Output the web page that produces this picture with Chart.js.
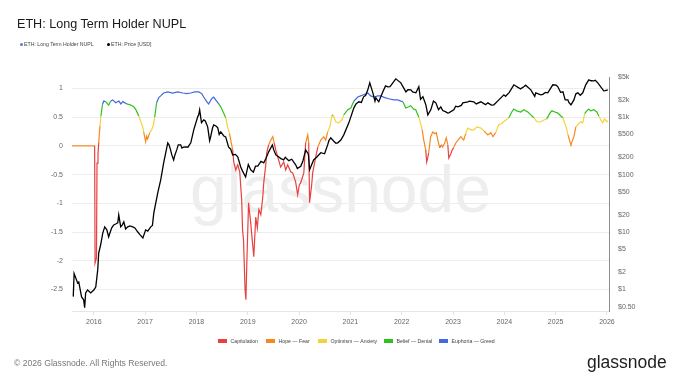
<!DOCTYPE html>
<html>
<head>
<meta charset="utf-8">
<script src="https://cdn.jsdelivr.net/npm/chart.js@4.4.1/dist/chart.umd.min.js"></script>
<style>
body { margin: 0; background: #fff; font-family: "Liberation Sans", Arial, sans-serif; }
#wrap { position: relative; width: 680px; height: 383px; overflow: hidden; }
canvas { position: absolute; left: 0; top: 0; }
.t { position: absolute; white-space: nowrap; line-height: 1; }
#title { left: 17px; top: 17.5px; font-size: 12.6px; color: #1a1a1a; }
.leg { top: 41.5px; font-size: 5.2px; color: #444; }
.dot { display: inline-block; width: 3px; height: 3px; border-radius: 50%; margin-right: 1.5px; vertical-align: middle; }
.zone { top: 338.5px; font-size: 5.2px; color: #444; }
.box { display: inline-block; width: 9px; height: 4.5px; margin-right: 3.5px; vertical-align: -0.5px; }
#copy { left: 14px; top: 358.5px; font-size: 8.6px; color: #777; }
#logo { left: 587px; top: 354px; font-size: 17.5px; color: #1e1e1e; }
</style>
</head>
<body>
<div id="wrap">
  <canvas id="nuplChart" width="680" height="383"></canvas>
  <div class="t" id="title">ETH: Long Term Holder NUPL</div>
  <div class="t leg" style="left:19.5px"><span class="dot" style="background:#5f78d6"></span>ETH: Long Term Holder NUPL</div>
  <div class="t leg" style="left:106.5px"><span class="dot" style="background:#000"></span>ETH: Price [USD]</div>
  <div id="zoneLegend"></div>
  <div class="t" id="copy">© 2026 Glassnode. All Rights Reserved.</div>
  <div class="t" id="logo">glassnode</div>
</div>
<script>
// LTH-NUPL readings
const nuplDates = [
  '2015-07-30','2016-01-07','2016-01-10','2016-01-20','2016-01-24','2016-01-31','2016-02-05','2016-02-14','2016-02-21','2016-03-03',
  '2016-03-12','2016-03-26','2016-04-16','2016-05-01','2016-05-15','2016-06-06','2016-06-28','2016-07-12','2016-07-26','2016-08-23',
  '2016-09-21','2016-10-12','2016-10-27','2016-11-17','2016-12-01','2016-12-15','2016-12-22','2017-01-05','2017-01-12','2017-01-19',
  '2017-02-03','2017-02-17','2017-03-03','2017-03-10','2017-03-24','2017-04-08','2017-04-22','2017-05-13','2017-06-11','2017-07-16',
  '2017-08-21','2017-09-26','2017-10-24','2017-11-22','2017-12-20','2018-01-18','2018-02-08','2018-02-22','2018-03-15','2018-03-29',
  '2018-04-19','2018-05-04','2018-05-18','2018-06-09','2018-06-23','2018-07-14','2018-07-28','2018-08-11','2018-08-25','2018-09-02',
  '2018-09-16','2018-09-23','2018-10-08','2018-10-22','2018-11-05','2018-11-19','2018-11-25','2018-12-02','2018-12-13','2018-12-19',
  '2018-12-26','2019-01-07','2019-01-22','2019-02-05','2019-02-13','2019-02-27','2019-03-10','2019-03-21','2019-04-04','2019-04-18',
  '2019-04-25','2019-05-09','2019-05-16','2019-05-30','2019-06-14','2019-06-28','2019-07-08','2019-07-19','2019-08-02','2019-08-23',
  '2019-09-14','2019-09-28','2019-10-12','2019-11-03','2019-11-17','2019-12-08','2019-12-22','2020-01-03','2020-01-13','2020-02-04',
  '2020-02-17','2020-03-03','2020-03-10','2020-03-16','2020-03-31','2020-04-07','2020-04-29','2020-05-14','2020-06-04','2020-06-25',
  '2020-07-09','2020-07-23','2020-08-07','2020-08-22','2020-08-29','2020-09-19','2020-10-10','2020-11-01','2020-11-15','2020-12-14',
  '2021-01-04','2021-01-26','2021-02-23','2021-03-15','2021-04-05','2021-05-05','2021-05-26','2021-06-17','2021-07-15','2021-08-05',
  '2021-09-03','2021-10-01','2021-11-06','2021-12-04','2021-12-26','2022-01-09','2022-01-23','2022-01-30','2022-02-21','2022-03-06',
  '2022-03-27','2022-04-11','2022-05-03','2022-05-17','2022-05-27','2022-06-07','2022-06-21','2022-06-28','2022-07-05','2022-07-12',
  '2022-07-26','2022-08-10','2022-08-24','2022-09-04','2022-09-15','2022-09-28','2022-10-12','2022-10-19','2022-11-03','2022-11-14',
  '2022-11-25','2022-12-02','2022-12-16','2022-12-23','2023-01-06','2023-01-21','2023-02-05','2023-02-26','2023-03-18','2023-04-01',
  '2023-04-16','2023-05-08','2023-05-30','2023-06-20','2023-07-18','2023-08-09','2023-09-06','2023-09-27','2023-10-12','2023-11-01',
  '2023-11-23','2023-12-07','2023-12-28','2024-01-12','2024-02-02','2024-02-23','2024-03-08','2024-03-29','2024-04-28','2024-05-19',
  '2024-06-17','2024-07-08','2024-07-30','2024-08-20','2024-09-18','2024-10-09','2024-10-30','2024-11-21','2024-12-05','2024-12-27',
  '2025-01-17','2025-02-07','2025-02-22','2025-03-08','2025-03-19','2025-03-30','2025-04-13','2025-04-20','2025-04-27','2025-05-11',
  '2025-05-25','2025-06-08','2025-06-29','2025-07-13','2025-07-27','2025-08-11','2025-08-25','2025-09-08','2025-09-30','2025-10-21',
  '2025-11-04','2025-11-18','2025-12-02','2025-12-16','2025-12-30','2026-01-07'
];
const nuplValues = [
  0, 0, -2.04, -1.95, -0.3, -0.15, 0.05, 0.35, 0.52, 0.72,
  0.78, 0.77, 0.71, 0.78, 0.8, 0.75, 0.78, 0.73, 0.77, 0.73,
  0.71, 0.68, 0.63, 0.52, 0.42, 0.33, 0.24, 0.07, 0.17, 0.12,
  0.23, 0.28, 0.38, 0.5, 0.75, 0.84, 0.87, 0.92, 0.94, 0.92,
  0.94, 0.92, 0.91, 0.92, 0.94, 0.94, 0.91, 0.85, 0.77, 0.73,
  0.82, 0.85, 0.8, 0.73, 0.68, 0.57, 0.49, 0.33, 0.21, 0.1,
  -0.07, -0.28, -0.42, -0.33, -0.45, -0.94, -1.46, -1.64, -2.51, -2.68,
  -1.99, -0.99, -1.34, -1.72, -1.93, -1.24, -1.43, -1.11, -1.2, -0.89,
  -0.64, -0.33, -0.12, 0.02, 0.1, 0.16, 0.05, -0.07, -0.19, -0.37,
  -0.28, -0.42, -0.33, -0.45, -0.47, -0.63, -0.85, -0.68, -0.64, -0.47,
  0.05, 0.19, 0.05, -0.99, -0.68, -0.47, -0.19, -0.02, 0.1, 0.16,
  0.1, 0.24, 0.33, 0.52, 0.54, 0.42, 0.4, 0.45, 0.54, 0.63,
  0.66, 0.78, 0.85, 0.87, 0.89, 0.92, 0.87, 0.85, 0.87, 0.87,
  0.84, 0.82, 0.8, 0.8, 0.78, 0.77, 0.7, 0.66, 0.68, 0.7,
  0.64, 0.63, 0.5, 0.38, 0.28, 0.1, -0.07, -0.28, -0.21, -0.12,
  0.16, 0.24, 0.21, 0.23, 0.1, -0.03, 0.02, -0.02, 0.05, 0.14,
  0.02, -0.21, -0.14, -0.09, -0.03, 0.05, 0.1, 0.16, 0.1, 0.21,
  0.31, 0.28, 0.28, 0.33, 0.31, 0.26, 0.19, 0.23, 0.16, 0.23,
  0.37, 0.38, 0.42, 0.45, 0.49, 0.59, 0.64, 0.61, 0.59, 0.63,
  0.59, 0.54, 0.49, 0.42, 0.42, 0.45, 0.47, 0.57, 0.61, 0.59,
  0.57, 0.52, 0.49, 0.38, 0.31, 0.19, 0.07, 0.01, 0.07, 0.16,
  0.33, 0.37, 0.42, 0.4, 0.56, 0.61, 0.64, 0.61, 0.63, 0.59,
  0.52, 0.45, 0.4, 0.47, 0.42, 0.44
];

// ETH price readings (USD)
const priceDates = [
  '2015-08-08','2015-08-14','2015-09-08','2015-09-16','2015-10-06','2015-10-21','2015-10-28','2015-11-04','2015-11-18','2015-12-10',
  '2016-01-01','2016-01-15','2016-01-29','2016-02-05','2016-02-19','2016-03-05','2016-03-19','2016-04-03','2016-04-16','2016-04-25',
  '2016-05-08','2016-05-22','2016-06-05','2016-06-20','2016-06-27','2016-07-11','2016-07-20','2016-08-02','2016-08-15','2016-08-30',
  '2016-09-15','2016-10-05','2016-10-20','2016-11-10','2016-11-25','2016-12-16','2017-01-05','2017-01-20','2017-02-10','2017-02-22',
  '2017-03-04','2017-04-01','2017-04-22','2017-05-13','2017-06-11','2017-06-20','2017-07-01','2017-07-10','2017-07-23','2017-08-01',
  '2017-08-14','2017-08-25','2017-09-11','2017-09-20','2017-10-01','2017-10-17','2017-11-01','2017-11-22','2017-12-13','2018-01-10',
  '2018-01-17','2018-01-24','2018-02-06','2018-02-22','2018-03-05','2018-03-22','2018-04-05','2018-04-12','2018-04-25','2018-05-04',
  '2018-05-20','2018-06-02','2018-06-12','2018-06-23','2018-07-15','2018-07-28','2018-08-18','2018-09-01','2018-09-16','2018-10-05',
  '2018-10-22','2018-11-12','2018-11-25','2018-12-17','2019-01-05','2019-01-22','2019-02-10','2019-02-25','2019-03-13','2019-04-05',
  '2019-04-25','2019-05-10','2019-05-30','2019-06-25','2019-07-05','2019-07-20','2019-08-10','2019-08-25','2019-09-14','2019-09-25',
  '2019-10-20','2019-11-10','2019-12-08','2019-12-20','2020-01-13','2020-01-28','2020-02-17','2020-02-25','2020-03-03','2020-03-08',
  '2020-03-16','2020-04-14','2020-05-05','2020-06-04','2020-07-01','2020-07-23','2020-08-01','2020-08-14','2020-09-05','2020-09-20',
  '2020-10-03','2020-10-25','2020-11-15','2020-12-21','2021-01-26','2021-02-10','2021-03-02','2021-03-20','2021-04-05','2021-04-20',
  '2021-05-05','2021-05-19','2021-06-10','2021-06-25','2021-07-01','2021-07-22','2021-08-20','2021-09-08','2021-09-25','2021-10-10',
  '2021-10-30','2021-11-20','2021-12-26','2022-01-31','2022-02-15','2022-03-07','2022-03-20','2022-04-12','2022-05-03','2022-05-15',
  '2022-06-01','2022-06-22','2022-07-06','2022-07-27','2022-08-15','2022-09-01','2022-09-20','2022-10-06','2022-10-20','2022-11-11',
  '2022-11-25','2022-12-02','2023-01-07','2023-01-20','2023-02-05','2023-03-01','2023-03-12','2023-04-17','2023-04-28','2023-05-29',
  '2023-06-15','2023-07-18','2023-08-20','2023-09-06','2023-10-01','2023-10-19','2023-11-23','2023-12-29','2024-01-10','2024-01-20',
  '2024-02-03','2024-03-09','2024-04-13','2024-04-25','2024-05-19','2024-06-01','2024-07-08','2024-08-05','2024-08-12','2024-09-17',
  '2024-10-01','2024-10-20','2024-11-06','2024-12-12','2025-01-05','2025-01-17','2025-02-05','2025-02-22','2025-03-10','2025-03-29',
  '2025-04-05','2025-04-20','2025-05-11','2025-05-25','2025-06-08','2025-06-25','2025-07-13','2025-08-03','2025-08-25','2025-09-10',
  '2025-09-30','2025-10-10','2025-10-28','2025-11-18','2025-12-09','2025-12-20','2026-01-07'
];
const priceValues = [
  0.75, 1.9, 1.3, 1.35, 0.74, 0.66, 0.48, 0.87, 0.98, 0.87,
  0.98, 1.1, 2.19, 4.3, 6.0, 9.6, 12.3, 10.9, 8.2, 9.6,
  11.8, 13.3, 13.8, 14.4, 19.9, 12.3, 13, 15, 11.3, 12.3,
  12.8, 12.3, 11.8, 10, 9.0, 7.9, 10.9, 10.4, 12.3, 13,
  21.5, 48, 81, 160, 357, 330, 269, 220, 180, 220,
  269, 330, 329, 290, 300, 304, 300, 357, 601, 1012,
  1100, 1340, 800, 897, 860, 678, 390, 454, 640, 734,
  700, 651, 500, 555, 470, 454, 300, 280, 220, 225,
  203, 136, 115, 91, 150, 121, 110, 140, 140, 170,
  160, 190, 249, 329, 269, 220, 203, 190, 180, 200,
  175, 185, 148, 128, 140, 170, 269, 250, 240, 220,
  121, 180, 200, 240, 230, 329, 390, 436, 380, 350,
  357, 400, 492, 795, 1450, 1700, 1850, 1800, 2260, 2400,
  2990, 3960, 2650, 1900, 2170, 1850, 2760, 3500, 3375, 3400,
  3960, 4645, 3960, 2760, 3000, 2990, 2750, 2650, 3375, 2050,
  2260, 1640, 1096, 1340, 1900, 1775, 1350, 1510, 1300, 1237,
  1180, 1188, 1340, 1550, 1510, 1600, 1775, 1850, 1900, 1850,
  1700, 1850, 1650, 1775, 1620, 1640, 2000, 2445, 2300, 2450,
  2650, 3655, 3240, 3100, 3375, 3600, 2990, 2300, 2650, 2445,
  2500, 2700, 2650, 3655, 3600, 3375, 2700, 2760, 2000, 2000,
  1800, 1640, 2000, 2550, 2650, 2400, 2650, 3655, 4470, 4300,
  4290, 4400, 3960, 3375, 2870, 2900, 2990
];

const yearTicks = [2016, 2017, 2018, 2019, 2020, 2021, 2022, 2023, 2024, 2025, 2026];
const nuplTicks = [-2.5, -2, -1.5, -1, -0.5, 0, 0.5, 1];
const priceTicks = [0.5, 1, 2, 5, 10, 20, 50, 100, 200, 500, 1000, 2000, 5000];
const priceTickLabels = ['$0.50', '$1', '$2', '$5', '$10', '$20', '$50', '$100', '$200', '$500', '$1k', '$2k', '$5k'];

// NUPL zones: lower bound of each band
const zoneNames = ['Capitulation', 'Hope \u2014 Fear', 'Optimism \u2014 Anxiety', 'Belief \u2014 Denial', 'Euphoria \u2014 Greed'];
const zoneFloors = [-Infinity, 0, 0.25, 0.5, 0.75];
const zoneColors = ['#e8413f', '#f5891f', '#f4d339', '#2fc21f', '#4468e0'];
const zoneLegendX = [218, 266, 318, 384, 439];

function zoneColor(v) {
    let c = zoneColors[0];
    zoneFloors.forEach((f, i) => { if (v >= f) c = zoneColors[i]; });
    return c;
}

function decimalYear(s) {
    const [y, m, d] = s.split('-').map(Number);
    const t0 = Date.UTC(y, 0, 1), t1 = Date.UTC(y + 1, 0, 1);
    return y + (Date.UTC(y, m - 1, d) - t0) / (t1 - t0);
}

// bottom zone legend
const zl = document.getElementById('zoneLegend');
zoneNames.forEach((name, i) => {
    const el = document.createElement('div');
    el.className = 't zone';
    el.style.left = zoneLegendX[i] + 'px';
    el.innerHTML = `<span class="box" style="background:${zoneColors[i]}"></span>${name}`;
    zl.appendChild(el);
});

const watermark = {
    id: 'watermark',
    beforeDatasetsDraw(chart) {
        const { ctx, chartArea: a } = chart;
        ctx.save();
        ctx.font = '66px "Liberation Sans", Arial, sans-serif';
        ctx.fillStyle = '#eeeeee';
        ctx.textAlign = 'center';
        ctx.fillText('glassnode', (a.left + a.right) / 2, a.top + 135);
        ctx.restore();
    }
};

const tickFont = { family: '"Liberation Sans", Arial, sans-serif', size: 7 };
const NUPL_MAX = Math.log10(5000) - 2.5;
const NUPL_MIN = -2.875;

new Chart(document.getElementById('nuplChart'), {
    type: 'line',
    data: {
        datasets: [
            {
                label: 'ETH: Price [USD]',
                data: priceDates.map((d, i) => ({ x: decimalYear(d), y: priceValues[i] })),
                yAxisID: 'y2',
                borderColor: '#000',
                borderWidth: 1.3,
                pointRadius: 0,
                tension: 0
            },
            {
                label: 'ETH: Long Term Holder NUPL',
                data: nuplDates.map((d, i) => ({ x: decimalYear(d), y: nuplValues[i] })),
                yAxisID: 'y',
                borderColor: '#5f78d6',
                borderWidth: 1.2,
                pointRadius: 0,
                tension: 0,
                segment: {
                    borderColor: ctx => zoneColor((ctx.p0.parsed.y + ctx.p1.parsed.y) / 2)
                }
            }
        ]
    },
    options: {
        responsive: false,
        animation: false,
        devicePixelRatio: 1,
        layout: { padding: { left: 42, right: 21, top: 77, bottom: 50 } },
        plugins: { legend: { display: false }, title: { display: false }, tooltip: { enabled: false } },
        scales: {
            x: {
                type: 'linear',
                min: decimalYear('2015-07-30'),
                max: 2026.04,
                afterBuildTicks: s => { s.ticks = yearTicks.map(v => ({ value: v })); },
                afterFit: s => { s.height = 22; },
                ticks: { color: '#666', font: tickFont, padding: 3, maxRotation: 0, autoSkip: false, callback: v => String(v) },
                grid: { drawOnChartArea: false, drawTicks: true, tickLength: 4, color: '#e2e2e2' },
                border: { display: true, color: '#e6e6e6' }
            },
            y: {
                type: 'linear',
                position: 'left',
                min: NUPL_MIN,
                max: NUPL_MAX,
                afterBuildTicks: s => { s.ticks = nuplTicks.map(v => ({ value: v })); },
                afterFit: s => { s.width = 30; },
                ticks: { color: '#666', font: tickFont, padding: 9, callback: v => String(v) },
                grid: { color: '#ededed', drawTicks: false },
                border: { display: false }
            },
            y2: {
                type: 'logarithmic',
                position: 'right',
                min: Math.pow(10, NUPL_MIN + 2.5),
                max: 5000,
                afterBuildTicks: s => { s.ticks = priceTicks.map(v => ({ value: v })); },
                afterFit: s => { s.width = 50; },
                ticks: { color: '#666', font: tickFont, padding: 9, callback: v => priceTickLabels[priceTicks.indexOf(v)] },
                grid: { drawOnChartArea: false, drawTicks: false },
                border: { display: true, color: '#8c8c8c' }
            }
        }
    },
    plugins: [watermark]
});
</script>
</body>
</html>
